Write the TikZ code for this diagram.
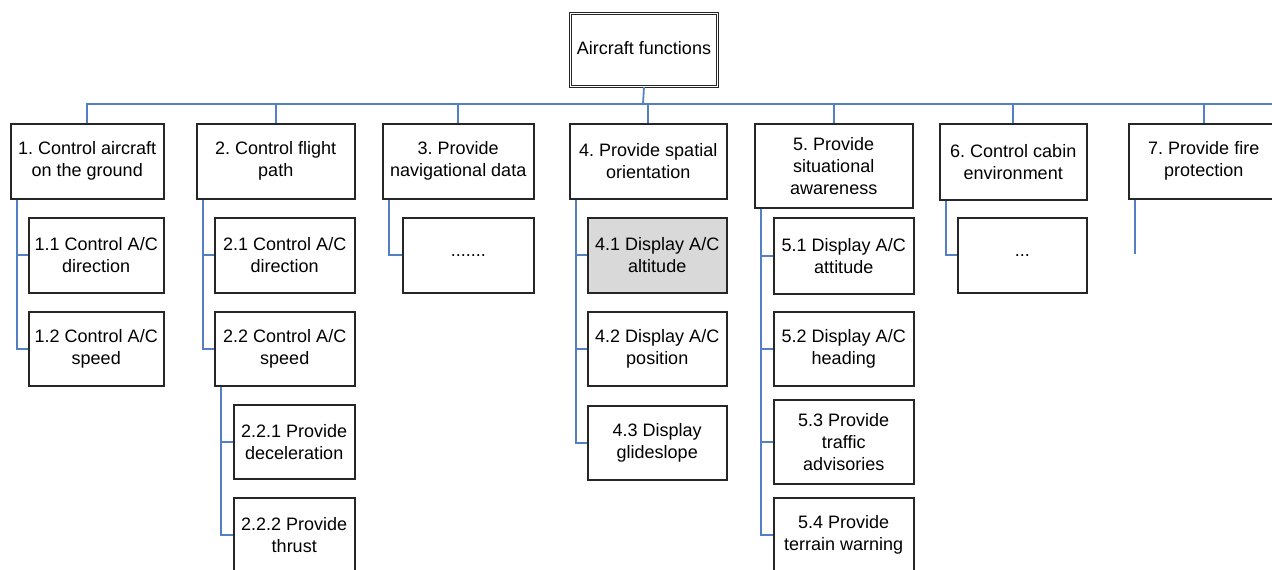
\documentclass[tikz,border=0pt]{standalone}
\usepackage{fontspec}
\setmainfont{Liberation Sans}
\usepackage{tikz}
\usetikzlibrary{positioning,calc}

\definecolor{linkblue}{RGB}{84,127,196}
\definecolor{hilite}{RGB}{217,217,217}

\tikzset{
    fn/.style={draw=black!85, line width=1.5pt, fill=white, align=center, inner sep=0pt,
        anchor=north west, font=\fontsize{18}{22}\selectfont},
    link/.style={draw=linkblue, line width=1.8pt}
}

\begin{document}
\frenchspacing
\begin{tikzpicture}[x=1pt, y=-1pt]
    \useasboundingbox (0,0) rectangle (1272,570);
    \clip (0,0) rectangle (1272,570);

    % Root
    \node [fn, double, double distance=1.6pt, line width=1pt, minimum width=147pt, minimum height=73pt]
        (root) at (570,13) {\raisebox{5pt}{Aircraft functions}};

    % First level
    \node [fn, minimum width=153pt, minimum height=75pt] (b1) at (10,123) {1. Control aircraft\\on the ground};
    \node [fn, minimum width=158pt, minimum height=75pt] (b2) at (196,123) {2. Control flight\\path};
    \node [fn, minimum width=151pt, minimum height=75pt] (b3) at (382,123) {3. Provide\\navigational data};
    \node [fn, minimum width=157pt, minimum height=75pt] (b4) at (569,123) {4. Provide spatial\\orientation};
    \node [fn, minimum width=158pt, minimum height=84pt] (b5) at (754,123) {5. Provide\\situational\\awareness};
    \node [fn, minimum width=147pt, minimum height=76pt] (b6) at (939,123) {6. Control cabin\\environment};
    \node [fn, minimum width=150pt, minimum height=75pt] (b7) at (1128,123) {7. Provide fire\\protection};

    % Second level
    \node [fn, minimum width=135pt, minimum height=75pt] (c11) at (28,217) {1.1 Control A/C\\direction};
    \node [fn, minimum width=135pt, minimum height=74pt] (c12) at (28,311) {1.2 Control A/C\\speed};
    \node [fn, minimum width=140pt, minimum height=75pt] (c21) at (214,217) {2.1 Control A/C\\direction};
    \node [fn, minimum width=140pt, minimum height=74pt] (c22) at (214,311) {2.2 Control A/C\\speed};
    \node [fn, minimum width=131pt, minimum height=75pt] (c31) at (402,217) {.......};
    \node [fn, fill=hilite, minimum width=139pt, minimum height=75pt] (c41) at (587,217) {4.1 Display A/C\\altitude};
    \node [fn, minimum width=139pt, minimum height=74pt] (c42) at (587,311) {4.2 Display A/C\\position};
    \node [fn, minimum width=139pt, minimum height=74pt] (c43) at (587,405) {4.3 Display\\glideslope};
    \node [fn, minimum width=140pt, minimum height=76pt] (c51) at (773,217) {5.1 Display A/C\\attitude};
    \node [fn, minimum width=140pt, minimum height=74pt] (c52) at (773,311) {5.2 Display A/C\\heading};
    \node [fn, minimum width=140pt, minimum height=84pt] (c53) at (773,399) {5.3 Provide\\traffic\\advisories};
    \node [fn, minimum width=140pt, minimum height=75pt] (c54) at (773,497) {5.4 Provide\\terrain warning};
    \node [fn, minimum width=129pt, minimum height=75pt] (c61) at (957,217) {...};

    % Third level
    \node [fn, minimum width=121pt, minimum height=74pt] (c221) at (233,404) {2.2.1 Provide\\deceleration};
    \node [fn, minimum width=121pt, minimum height=75pt] (c222) at (233,497) {2.2.2 Provide\\thrust};

    % Bus to the first level
    \coordinate (bus) at (643,104);
    \coordinate (busend) at (1272,104);
    \draw [link] (root.south) -- (bus);
    \draw [link] (busend) -| (b1.north);
    \foreach \n in {2,...,7} {
        \draw [link] (bus) -| (b\n.north);
    }

    % Side links to the children
    \foreach \p/\c in {b1/c11, b1/c12, b2/c21, b2/c22, c22/c221, c22/c222, b3/c31,
                       b4/c41, b4/c42, b4/c43, b5/c51, b5/c52, b5/c53, b5/c54, b6/c61} {
        \draw [link] ([xshift=7pt]\p.south west) |- (\c.west);
    }
    \coordinate (e7) at (1135,254);
    \draw [link] ([xshift=7pt]b7.south west) -- (e7);
\end{tikzpicture}
\end{document}
